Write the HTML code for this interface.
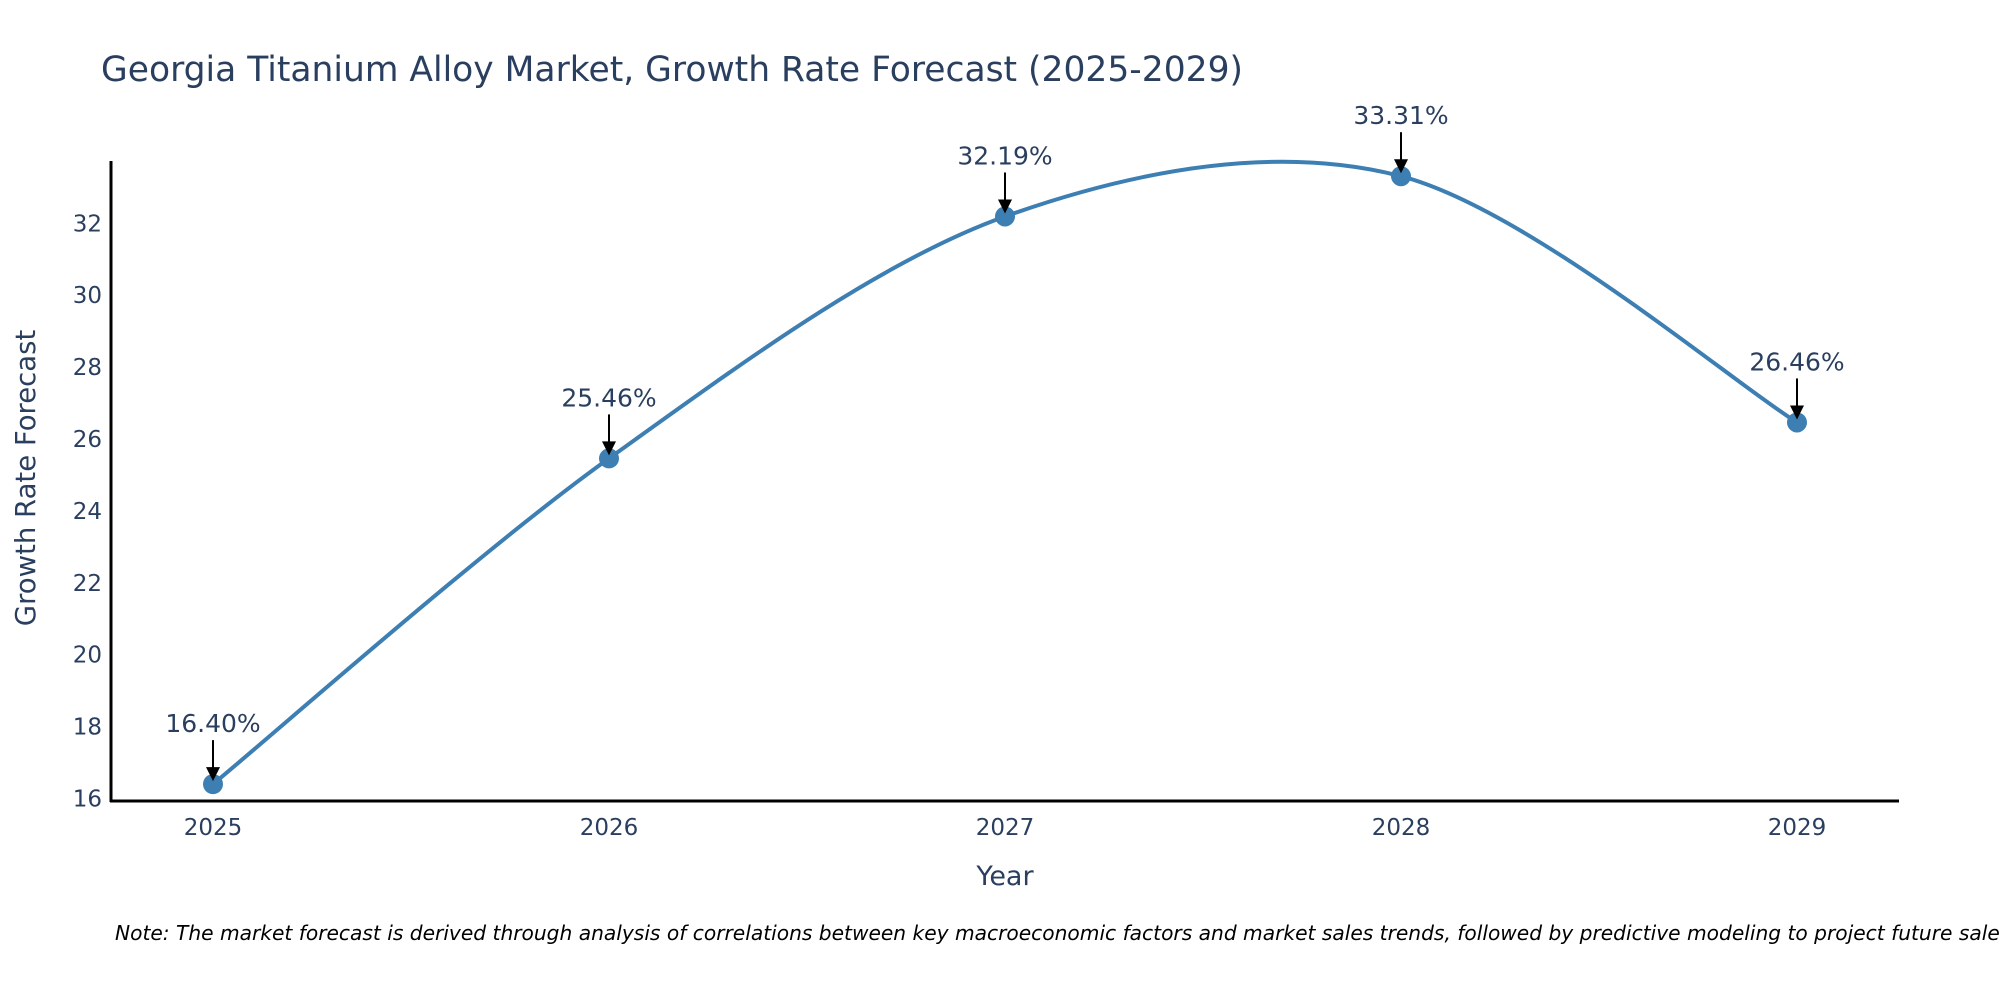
<!DOCTYPE html>
<html><head><meta charset="utf-8"><style>
html,body{margin:0;padding:0;background:#fff;}
svg{display:block;font-family:"DejaVu Sans","Liberation Sans",sans-serif;}
</style></head><body>
<svg id="chart" width="2000" height="1000" viewBox="0 0 2000 1000">
<rect width="2000" height="1000" fill="#fff"/>
<text x="101" y="81" font-size="34.5" fill="#2a3f5f">Georgia Titanium Alloy Market, Growth Rate Forecast (2025-2029)</text>
<g id="yticks"></g>
<g id="xticks"></g>
<line x1="111" y1="161" x2="111" y2="802" stroke="#000" stroke-width="3"/>
<line x1="110" y1="801" x2="1899" y2="801" stroke="#000" stroke-width="3"/>
<path id="line" fill="none" stroke="#3d7fb3" stroke-width="4"/>
<g id="marks"></g>
<g id="ann"></g>
<text x="1005" y="885" font-size="27" fill="#2a3f5f" text-anchor="middle">Year</text>
<text transform="translate(35,478) rotate(-90)" font-size="27.5" fill="#2a3f5f" text-anchor="middle">Growth Rate Forecast</text>
<text x="115" y="940" font-size="20.2" font-style="italic" fill="#000">Note: The market forecast is derived through analysis of correlations between key macroeconomic factors and market sales trends, followed by predictive modeling to project future sales</text>
</svg>
<script>
const years = ["2025","2026","2027","2028","2029"];
const values = [16.40, 25.46, 32.19, 33.31, 26.46];
const labels = ["16.40%","25.46%","32.19%","33.31%","26.46%"];
const yTicks = [16,18,20,22,24,26,28,30,32];

const NS = "http://www.w3.org/2000/svg";
function xs(i){return 213 + i*396;}
function ys(v){return 798.5 - (v-16)*35.95;}
function mk(tag, attrs, parent){const e=document.createElementNS(NS,tag);for(const k in attrs)e.setAttribute(k,attrs[k]);parent.appendChild(e);return e;}

const yg=document.getElementById('yticks');
yTicks.forEach(t=>{
  const e=mk('text',{x:102,y:ys(t)+8,'font-size':23,fill:'#2a3f5f','text-anchor':'end'},yg);
  e.textContent=t;
  
  
});
const xg=document.getElementById('xticks');
years.forEach((y,i)=>{
  const e=mk('text',{x:xs(i),y:835,'font-size':23,fill:'#2a3f5f','text-anchor':'middle'},xg);
  e.textContent=y;
  
  
});

const P=values.map((v,i)=>[xs(i),ys(v)]);
let d=`M${P[0][0]},${P[0][1]}`;
const t=0.16;
for(let i=0;i<P.length-1;i++){
  const p0=P[Math.max(0,i-1)],p1=P[i],p2=P[i+1],p3=P[Math.min(P.length-1,i+2)];
  const c1=[p1[0]+(p2[0]-p0[0])*t,p1[1]+(p2[1]-p0[1])*t];
  const c2=[p2[0]-(p3[0]-p1[0])*t,p2[1]-(p3[1]-p1[1])*t];
  d+=` C${c1[0]},${c1[1]} ${c2[0]},${c2[1]} ${p2[0]},${p2[1]}`;
}
document.getElementById('line').setAttribute('d',d);

const mg=document.getElementById('marks'), ag=document.getElementById('ann');
P.forEach((p,i)=>{
  const c=mk('circle',{cx:p[0],cy:p[1],r:10,fill:'#3d7fb3'},mg);
  
  
  const l=mk('line',{x1:p[0],y1:p[1]-44,x2:p[0],y2:p[1]-14,stroke:'#000','stroke-width':2},ag);
  
  
  const a=mk('polygon',{points:`${p[0]-7},${p[1]-17} ${p[0]+7},${p[1]-17} ${p[0]},${p[1]-3}`,fill:'#000'},ag);
  
  
  const tx=mk('text',{x:p[0],y:p[1]-52,'font-size':25,fill:'#2a3f5f','text-anchor':'middle'},ag);
  tx.textContent=labels[i];
  
  
});
</script>
</body></html>
